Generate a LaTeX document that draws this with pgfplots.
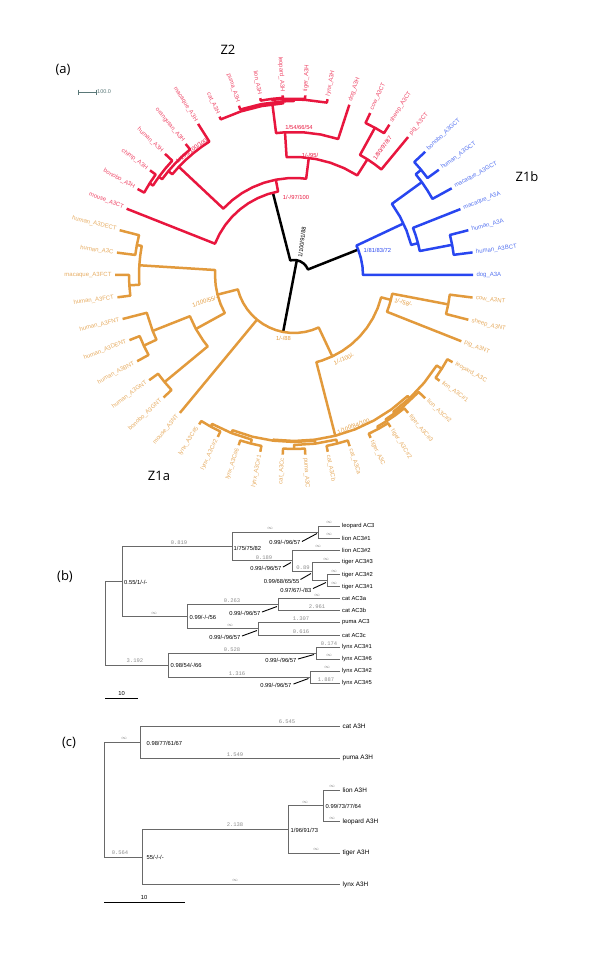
\documentclass[border=0pt]{standalone}
\usepackage{fontspec}
\setmainfont{Liberation Sans}
\newfontfamily\monof{Liberation Mono}
\newfontfamily\titlef{Open Sans}
\usepackage{pgfplots}
\pgfplotsset{compat=1.18}
\usepgfplotslibrary{polar}

\definecolor{zred}{RGB}{232,22,62}
\definecolor{zredl}{RGB}{238,72,104}
\definecolor{zblue}{RGB}{40,70,240}
\definecolor{zbluel}{RGB}{85,115,240}
\definecolor{zor}{RGB}{226,154,60}
\definecolor{zorl}{RGB}{230,172,98}
\definecolor{tgray}{RGB}{105,105,105}
\definecolor{lgray}{RGB}{140,140,140}
\definecolor{sbar}{RGB}{90,120,120}

\newcommand\fLeaf{\fontsize{6.0}{7}\selectfont}
\newcommand\fSup{\fontsize{5.8}{7}\selectfont}
\newcommand\fB{\fontsize{5.8}{7}\selectfont}
\newcommand\fC{\fontsize{6.4}{7}\selectfont}
\newcommand\fM{\monof\fontsize{5.5}{6}\selectfont}
\newcommand\fT{\titlef\fontsize{13}{15}\selectfont}

\tikzset{
  bl/.style={font=\fB, anchor=west, inner sep=0.5pt},
  be/.style={font=\fB, anchor=east, inner sep=0.5pt},
  cl/.style={font=\fC, anchor=west, inner sep=0.5pt},
  bm/.style={font=\fM, text=lgray, inner sep=0.5pt},
}
\pgfplotsset{
  canvas/.style={scale only axis, width=600pt, height=954pt, hide axis, clip=false, at={(0pt,0pt)}, anchor=south west},
  br/.style={line width=2.5pt, line join=round, mark=none},
  tb/.style={tgray, line width=0.9pt, mark=none},
  ld/.style={black, line width=0.9pt, mark=none},
  leafR/.style={only marks, mark=none, point meta=explicit symbolic, nodes near coords,
     visualization depends on={value \thisrow{rot}\as\myrot},
     every node near coord/.append style={anchor=west, rotate=\myrot, inner sep=0.3pt, font=\fLeaf, text=#1}},
  leafL/.style={only marks, mark=none, point meta=explicit symbolic, nodes near coords,
     visualization depends on={value \thisrow{rot}\as\myrot},
     every node near coord/.append style={anchor=east, rotate=\myrot, inner sep=0.3pt, font=\fLeaf, text=#1}},
}

\begin{document}
\begin{tikzpicture}
% ---------------- pixel axis: panels (b), (c), texts ----------------
\begin{axis}[canvas, xmin=0, xmax=600, ymin=0, ymax=954, y dir=reverse]
\addplot[draw=none, mark=none] coordinates {(0,0) (600,954)};

% titles panel (a)
\node[font=\fT] at (axis cs:63,70) {(a)};
\node[font=\fT] at (axis cs:228,50) {Z2};
\node[font=\fT] at (axis cs:527,177) {Z1b};
\node[font=\fT] at (axis cs:159,476) {Z1a};
% scale bar (a)
\addplot[sbar, line width=1pt] coordinates {(78,92) (96,92)};
\addplot[sbar, line width=1pt] coordinates {(78,89.5) (78,94.5)};
\addplot[sbar, line width=1pt] coordinates {(96,89.5) (96,94.5)};
\node[font=\fontsize{5.5}{6}\selectfont, text=sbar, anchor=west, inner sep=0.5pt] at (axis cs:96.5,92) {100.0};
% support values (a)
\node[font=\fSup, rotate=83, inner sep=0.5pt] at (axis cs:302,242) {1/100/91/88};
\node[font=\fSup, text=zred, inner sep=0.5pt] at (axis cs:296,197) {1/-/97/100};
\node[font=\fSup, text=zred, inner sep=0.5pt] at (axis cs:310,155) {1/-/95/};
\node[font=\fSup, text=zred, inner sep=0.5pt] at (axis cs:299,127) {1/54/66/54};
\node[font=\fSup, text=zred, rotate=54, inner sep=0.5pt] at (axis cs:382.5,148) {1/80/97/87};
\node[font=\fSup, text=zred, rotate=36, inner sep=0.5pt] at (axis cs:191.5,150.5) {1/100/100/100};
\node[font=\fSup, text=zblue, anchor=west, inner sep=0.5pt] at (axis cs:363,250) {1/81/83/72};
\node[font=\fSup, text=zor, rotate=-15, inner sep=0.5pt] at (axis cs:403.5,302.5) {1/-/58/-};
\node[font=\fSup, text=zor, rotate=24, inner sep=0.5pt] at (axis cs:344,359) {1/-/100/-};
\node[font=\fSup, text=zor, inner sep=0.5pt] at (axis cs:283.5,338) {1/-/88};
\node[font=\fSup, text=zor, rotate=18, inner sep=0.5pt] at (axis cs:205,301) {1/100/55/-};
\node[font=\fSup, text=zor, rotate=21, inner sep=0.5pt] at (axis cs:353.5,426) {1/100/84/100};

% ---------------- panel (b) ----------------
\node[font=\fT] at (axis cs:65,577) {(b)};
\addplot[tb] coordinates {(122,581.5) (105,581.5) (105,665) (168,665)};
\addplot[tb] coordinates {(232,546.3) (122,546.3) (122,616.6) (187,616.6)};
\addplot[tb] coordinates {(318,532) (232,532) (232,560.6) (292,560.6)};
\addplot[tb] coordinates {(340,526) (318,526) (318,538) (340,538)};
\addplot[tb] coordinates {(340,550) (292,550) (292,571.25) (312,571.25)};
\addplot[tb] coordinates {(340,562.3) (312,562.3) (312,580.5) (327,580.5)};
\addplot[tb] coordinates {(340,574.5) (327,574.5) (327,586.5) (340,586.5)};
\addplot[tb] coordinates {(278,604.5) (187,604.5) (187,628.75) (258,628.75)};
\addplot[tb] coordinates {(340,598.5) (278,598.5) (278,610.5) (340,610.5)};
\addplot[tb] coordinates {(340,622.5) (258,622.5) (258,635) (340,635)};
\addplot[tb] coordinates {(316,653) (168,653) (168,677) (310,677)};
\addplot[tb] coordinates {(340,647) (316,647) (316,659) (340,659)};
\addplot[tb] coordinates {(340,671) (310,671) (310,683.3) (340,683.3)};
% leaf names (b)
\node[bl] at (axis cs:341.5,526) {leopard AC3};
\node[bl] at (axis cs:341.5,538) {lion AC3\#1};
\node[bl] at (axis cs:341.5,550) {lion AC3\#2};
\node[bl] at (axis cs:341.5,562.3) {tiger AC3\#3};
\node[bl] at (axis cs:341.5,574.5) {tiger AC3\#2};
\node[bl] at (axis cs:341.5,586.5) {tiger AC3\#1};
\node[bl] at (axis cs:341.5,598.5) {cat AC3a};
\node[bl] at (axis cs:341.5,610.5) {cat AC3b};
\node[bl] at (axis cs:341.5,622.5) {puma AC3};
\node[bl] at (axis cs:341.5,635) {cat AC3c};
\node[bl] at (axis cs:341.5,647) {lynx AC3\#1};
\node[bl] at (axis cs:341.5,659) {lynx AC3\#6};
\node[bl] at (axis cs:341.5,671) {lynx AC3\#2};
\node[bl] at (axis cs:341.5,683.3) {lynx AC3\#5};
% branch lengths (b)
\node[bm] at (axis cs:179,542.5) {0.819};
\node[bm] at (axis cs:270,528.5) {$\infty$};
\node[bm] at (axis cs:329,522.5) {$\infty$};
\node[bm] at (axis cs:329,534.5) {$\infty$};
\node[bm] at (axis cs:264,557.5) {0.189};
\node[bm] at (axis cs:318,546.5) {$\infty$};
\node[bm] at (axis cs:303,568) {0.89};
\node[bm] at (axis cs:326,559) {$\infty$};
\node[bm] at (axis cs:334,571) {$\infty$};
\node[bm] at (axis cs:334,583) {$\infty$};
\node[bm] at (axis cs:232,601) {0.263};
\node[bm] at (axis cs:317,595) {$\infty$};
\node[bm] at (axis cs:317,607) {2.961};
\node[bm] at (axis cs:154,613) {$\infty$};
\node[bm] at (axis cs:230,625) {$\infty$};
\node[bm] at (axis cs:301,619) {1.307};
\node[bm] at (axis cs:301,631.5) {0.616};
\node[bm] at (axis cs:135,661) {3.192};
\node[bm] at (axis cs:232,649.5) {0.528};
\node[bm] at (axis cs:329,643.5) {0.174};
\node[bm] at (axis cs:329,655.5) {$\infty$};
\node[bm] at (axis cs:237,673.5) {1.316};
\node[bm] at (axis cs:327,667.5) {$\infty$};
\node[bm] at (axis cs:326,679.5) {1.887};
% support values (b)
\node[bl] at (axis cs:123.5,582) {0.55/1/-/-};
\node[bl] at (axis cs:233,548.5) {1/75/75/82};
\node[be] at (axis cs:301,542.5) {0.99/-/96/57};
\addplot[ld] coordinates {(302,541.5) (317,533.5)};
\node[be] at (axis cs:282,568.5) {0.99/-/96/57};
\addplot[ld] coordinates {(283,567) (291,562.5)};
\node[be] at (axis cs:300,581.5) {0.99/68/65/55};
\addplot[ld] coordinates {(300.5,579.5) (311,573.5)};
\node[be] at (axis cs:312,590.5) {0.97/67/-/83};
\addplot[ld] coordinates {(313,588.5) (326,582.5)};
\node[bl] at (axis cs:189,617) {0.99/-/-/56};
\node[be] at (axis cs:261,613.5) {0.99/-/96/57};
\addplot[ld] coordinates {(262,612) (277,606.5)};
\node[be] at (axis cs:241,637.5) {0.99/-/96/57};
\addplot[ld] coordinates {(242,636) (257,630.5)};
\node[bl] at (axis cs:170,665.5) {0.98/54/-/66};
\node[be] at (axis cs:297,660.5) {0.99/-/96/57};
\addplot[ld] coordinates {(298,659) (314,654.5)};
\node[be] at (axis cs:292,685.5) {0.99/-/96/57};
\addplot[ld] coordinates {(293.5,684) (308.5,678.5)};
% scale bar (b)
\addplot[black, line width=0.9pt] coordinates {(105,698) (138,698)};
\node[font=\fB] at (axis cs:121.5,693.5) {10};

% ---------------- panel (c) ----------------
\node[font=\fT] at (axis cs:69,743) {(c)};
\addplot[tb] coordinates {(140,742) (104,742) (104,857) (142,857)};
\addplot[tb] coordinates {(340,726) (140,726) (140,758) (340,758)};
\addplot[tb] coordinates {(288,829.4) (142,829.4) (142,884.5) (340,884.5)};
\addplot[tb] coordinates {(323,805.75) (288,805.75) (288,853) (340,853)};
\addplot[tb] coordinates {(340,790) (323,790) (323,821.5) (340,821.5)};
\node[cl] at (axis cs:342,726) {cat A3H};
\node[cl] at (axis cs:342,758) {puma A3H};
\node[cl] at (axis cs:342,790) {lion A3H};
\node[cl] at (axis cs:342,821.5) {leopard A3H};
\node[cl] at (axis cs:342,853) {tiger A3H};
\node[cl] at (axis cs:342,884.5) {lynx A3H};
\node[bm] at (axis cs:124,738.5) {$\infty$};
\node[bm] at (axis cs:287,721.5) {6.545};
\node[bm] at (axis cs:235,754.5) {1.549};
\node[bm] at (axis cs:120,852.5) {0.564};
\node[bm] at (axis cs:235,825) {2.138};
\node[bm] at (axis cs:305,802) {$\infty$};
\node[bm] at (axis cs:332,786.5) {$\infty$};
\node[bm] at (axis cs:332,818) {$\infty$};
\node[bm] at (axis cs:316,849.5) {$\infty$};
\node[bm] at (axis cs:235,880.5) {$\infty$};
\node[bl] at (axis cs:146,743) {0.98/77/61/67};
\node[bl] at (axis cs:146,857.5) {55/-/-/-};
\node[bl] at (axis cs:290,830) {1/96/91/73};
\node[bl] at (axis cs:325,806.5) {0.99/73/77/64};
\addplot[black, line width=0.9pt] coordinates {(104,902) (185,902)};
\node[font=\fB] at (axis cs:144,897) {10};
\end{axis}

% ---------------- polar tree axis: panel (a) ----------------
\begin{axis}[canvas, xmin=-294, xmax=306, ymin=-679, ymax=275, data cs=polar]
% black root
\addplot[black, br] coordinates {(79.2,15) (0,0) (-100.8,58)};
\addplot[black, br] coordinates {(104.4,85) (104.4,15) (93.6,15) (79.2,15) (64.8,15) (50.4,15) (36,15) (21.6,15) (21.6,69)};
% red Z2
\addplot[zred, br] coordinates {(158.4,180) (158.4,85) (151.2,85) (144,85) (136.8,85) (129.6,85) (122.4,85) (115.2,85) (108,85) (100.8,85) (100.8,97)};
\addplot[zred, br] coordinates {(136.8,158) (136.8,97) (129.6,97) (122.4,97) (115.2,97) (108,97) (100.8,97) (93.6,97) (86.4,97) (82.8,97) (82.8,118)};
\addplot[zred, br] coordinates {(140.4,163) (140.4,158) (136.8,158) (133.2,158) (129.6,158) (126,158) (122.4,158) (122.4,179)};
\addplot[zred, br] coordinates {(144,167) (144,163) (140.4,163) (136.8,163) (133.2,163) (129.6,163) (129.6,170)};
\addplot[zred, br] coordinates {(147.6,171) (147.6,167) (144,167) (140.4,167) (136.8,167) (136.8,177)};
\addplot[zred, br] coordinates {(151.2,178.5) (151.2,171) (147.6,171) (144,171) (144,178)};
\addplot[zred, br] coordinates {(93.6,143) (93.6,118) (86.4,118) (79.2,118) (72,118) (64.8,118) (57.6,118) (57.6,137)};
\addplot[zred, br] coordinates {(97.2,172) (97.2,143) (93.6,143) (86.4,143) (79.2,143) (72,143) (72,179)};
\addplot[zred, br] coordinates {(115.2,175) (115.2,172) (108,172) (100.8,172) (93.6,172) (93.6,174)};
\addplot[zred, br] coordinates {(108,178) (108,174) (100.8,174) (93.6,174) (90,174) (90,175.5)};
\addplot[zred, br] coordinates {(93.6,176.5) (93.6,175.5) (90,175.5) (86.4,175.5) (79.2,175.5) (79.2,179)};
\addplot[zred, br] coordinates {(97.2,177.5) (97.2,176.5) (93.6,176.5) (86.4,176.5) (86.4,180)};
\addplot[zred, br] coordinates {(100.8,180) (100.8,177.5) (97.2,177.5) (93.6,177.5) (93.6,180)};
\addplot[zred, br] coordinates {(61.2,168) (61.2,137) (57.6,137) (54,137) (50.4,137) (50.4,179)};
\addplot[zred, br] coordinates {(64.8,179) (64.8,168) (61.2,168) (57.6,168) (57.6,178)};
% blue Z1b
\addplot[zblue, br] coordinates {(25.2,121) (25.2,69) (21.6,69) (14.4,69) (7.2,69) (0,69) (0,179)};
\addplot[zblue, br] coordinates {(36,158) (36,121) (28.8,121) (21.6,121) (14.4,121) (14.4,128)};
\addplot[zblue, br] coordinates {(39.6,165) (39.6,158) (36,158) (32.4,158) (28.8,158) (28.8,180)};
\addplot[zblue, br] coordinates {(43.2,180) (43.2,165) (39.6,165) (36,165) (36,179)};
\addplot[zblue, br] coordinates {(21.6,179) (21.6,128) (18,128) (14.4,128) (10.8,128) (10.8,161)};
\addplot[zblue, br] coordinates {(14.4,180) (14.4,161) (10.8,161) (7.2,161) (7.2,180)};
% orange Z1a
\addplot[zor, br] coordinates {(-64.8,90) (-64.8,58) (-72,58) (-79.2,58) (-86.4,58) (-93.6,58) (-100.8,58) (-108,58) (-115.2,58) (-122.4,58) (-129.6,58) (-136.8,58) (-144,58) (-151.2,58) (-158.4,58) (-165.6,58) (-165.6,79)};
\addplot[zor, br] coordinates {(-129.6,58) (-129.6,179)};
\addplot[zor, br] coordinates {(-14.4,100) (-14.4,90) (-21.6,90) (-28.8,90) (-36,90) (-43.2,90) (-50.4,90) (-57.6,90) (-64.8,90) (-72,90) (-75.6,90) (-75.6,166)};
\addplot[zor, br] coordinates {(-10.8,157) (-10.8,100) (-14.4,100) (-18,100) (-21.6,100) (-21.6,180)};
\addplot[zor, br] coordinates {(-7.2,180) (-7.2,157) (-10.8,157) (-14.4,157) (-14.4,180)};
\addplot[zor, br] coordinates {(-46.8,169) (-46.8,166) (-54,166) (-61.2,166) (-68.4,166) (-75.6,166) (-82.8,166) (-90,166) (-97.2,166) (-97.2,167)};
\addplot[zor, br] coordinates {(-32.4,175) (-32.4,169) (-39.6,169) (-46.8,169) (-54,169) (-54,171)};
\addplot[zor, br] coordinates {(-28.8,181) (-28.8,175) (-32.4,175) (-36,175) (-36,180)};
\addplot[zor, br] coordinates {(-43.2,180) (-43.2,171) (-50.4,171) (-54,171) (-57.6,171) (-57.6,173)};
\addplot[zor, br] coordinates {(-50.4,179) (-50.4,173) (-54,173) (-57.6,173) (-61.2,173) (-61.2,175.5)};
\addplot[zor, br] coordinates {(-57.6,180) (-57.6,175.5) (-61.2,175.5) (-64.8,175.5) (-64.8,180)};
\addplot[zor, br] coordinates {(-82.8,170) (-82.8,167) (-90,167) (-97.2,167) (-104.4,167) (-111.6,167) (-111.6,170)};
\addplot[zor, br] coordinates {(-75.6,174) (-75.6,170) (-82.8,170) (-90,170) (-90,174)};
\addplot[zor, br] coordinates {(-72,180) (-72,174) (-75.6,174) (-79.2,174) (-79.2,180)};
\addplot[zor, br] coordinates {(-86.4,180) (-86.4,174) (-90,174) (-93.6,174) (-93.6,180)};
\addplot[zor, br] coordinates {(-104.4,174) (-104.4,170) (-111.6,170) (-118.8,170) (-118.8,173)};
\addplot[zor, br] coordinates {(-100.8,180) (-100.8,174) (-104.4,174) (-108,174) (-108,179)};
\addplot[zor, br] coordinates {(-115.2,179) (-115.2,173) (-118.8,173) (-122.4,173) (-122.4,177)};
\addplot[zor, br] coordinates {(-151.2,112) (-151.2,79) (-158.4,79) (-165.6,79) (-172.8,79) (-180,79) (-183.6,79) (-183.6,155)};
\addplot[zor, br] coordinates {(-140.4,168) (-140.4,112) (-144,112) (-151.2,112) (-158.4,112) (-158.4,152)};
\addplot[zor, br] coordinates {(-136.8,179) (-136.8,168) (-140.4,168) (-144,168) (-144,179)};
\addplot[zor, br] coordinates {(-154.8,166) (-154.8,152) (-158.4,152) (-165.6,152) (-165.6,177)};
\addplot[zor, br] coordinates {(-151.2,179) (-151.2,166) (-154.8,166) (-158.4,166) (-158.4,177)};
\addplot[zor, br] coordinates {(-176.4,165) (-176.4,155) (-180,155) (-183.6,155) (-187.2,155) (-190.8,155) (-190.8,160)};
\addplot[zor, br] coordinates {(-172.8,178) (-172.8,165) (-176.4,165) (-180,165) (-180,179)};
\addplot[zor, br] coordinates {(-187.2,178.5) (-187.2,160) (-190.8,160) (-194.4,160) (-194.4,180)};

% leaf labels (a)
\addplot[leafR=zredl] table[x=a, y=r, meta=lab] {
a r rot lab
86.4 183 86.4 tiger\_A3H
79.2 182 79.2 lynx\_A3H
72 182 72 dog\_A3H
64.8 182 64.8 cow\_A3CT
57.6 181 57.6 sheep\_A3CT
50.4 182 50.4 pig\_A3CT
};
\addplot[leafL=zredl] table[x=a, y=r, meta=lab] {
a r rot lab
158.4 183 -21.6 mouse\_A3CT
151.2 181.5 -28.8 bonobo\_A3H
144 181 -36 chimp\_A3H
136.8 180 -43.2 human\_A3H
129.6 173 -50.4 orangutan\_A3H
122.4 182 -57.6 macaque\_A3H
115.2 178 -64.8 cat\_A3H
108 181 -72 puma\_A3H
100.8 183 -79.2 lion\_A3H
93.6 183 -86.4 leopard\_A3H
};
\addplot[leafR=zbluel] table[x=a, y=r, meta=lab] {
a r rot lab
43.2 183 43.2 bonobo\_A3GCT
36 182 36 human\_A3GCT
28.8 183 28.8 macaque\_A3GCT
21.6 182 21.6 macaque\_A3A
14.4 183 14.4 human\_A3A
7.2 183 7.2 human\_A3BCT
0 182 0 dog\_A3A
};
\addplot[leafR=zorl] table[x=a, y=r, meta=lab] {
a r rot lab
-7.2 183 -7.2 cow\_A3NT
-14.4 183 -14.4 sheep\_A3NT
-21.6 183 -21.6 pig\_A3NT
-28.8 184 -28.8 leopard\_A3C
-36 183 -36 lion\_A3C\#1
-43.2 183 -43.2 lion\_A3C\#2
-50.4 182 -50.4 tiger\_A3C\#3
-57.6 183 -57.6 tiger\_A3C\#2
-64.8 183 -64.8 tiger\_A3C
-72 183 -72 cat\_A3Ca
-79.2 183 -79.2 cat\_A3Cb
-86.4 183 -86.4 puma\_A3C
};
\addplot[leafL=zorl] table[x=a, y=r, meta=lab] {
a r rot lab
-93.6 183 86.4 cat\_A3Cc
-100.8 183 79.2 lynx\_A3C\#1
-108 182 72 lynx\_A3C\#6
-115.2 182 64.8 lynx\_A3C\#2
-122.4 180 57.6 lynx\_A3C\#5
-129.6 182 50.4 mouse\_A3NT
-136.8 182 43.2 bonobo\_A3GNT
-144 182 36 human\_A3GNT
-151.2 182 28.8 human\_A3BNT
-158.4 180 21.6 human\_A3DENT
-165.6 180 14.4 human\_A3FNT
-172.8 181 7.2 human\_A3FCT
-180 182 0 macaque\_A3FCT
-187.2 181.5 -7.2 human\_A3C
-194.4 183 -14.4 human\_A3DECT
};
\end{axis}
\end{tikzpicture}
\end{document}
